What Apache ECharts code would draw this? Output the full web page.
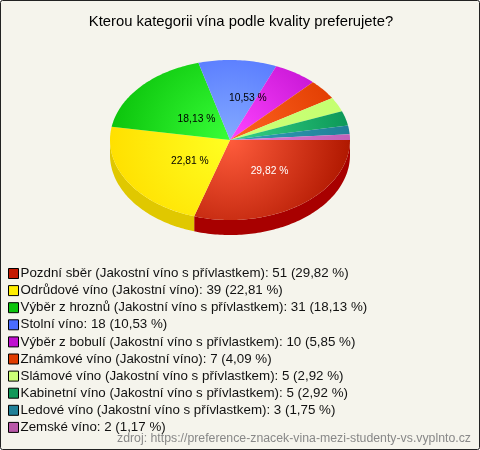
<!DOCTYPE html>
<html><head><meta charset="utf-8">
<style>html,body{margin:0;padding:0;background:#fff}#c{width:480px;height:450px}</style>
<script src="https://cdn.jsdelivr.net/npm/echarts@6/dist/echarts.min.js"></script>
</head><body><div id="c"></div>
<script>
const titleText = 'Kterou kategorii vína podle kvality preferujete?';
const sourceText = 'zdroj: https://preference-znacek-vina-mezi-studenty-vs.vyplnto.cz';
const categories = ['Pozdní sběr (Jakostní víno s přívlastkem)','Odrůdové víno (Jakostní víno)','Výběr z hroznů (Jakostní víno s přívlastkem)','Stolní víno','Výběr z bobulí (Jakostní víno s přívlastkem)','Známkové víno (Jakostní víno)','Slámové víno (Jakostní víno s přívlastkem)','Kabinetní víno (Jakostní víno s přívlastkem)','Ledové víno (Jakostní víno s přívlastkem)','Zemské víno'];
const counts = [51,39,31,18,10,7,5,5,3,2];
const percents = ['29,82','22,81','18,13','10,53','5,85','4,09','2,92','2,92','1,75','1,17'];
const legendColors = ['#c41a00','#ffee00','#0cc40c','#4a6cff','#c010d0','#e03c00','#ccff77','#109858','#208098','#b858a8'];
const innerColors = ['#ff5c3c','#ffff22','#38ff38','#84aaff','#ff44ff','#ff6422','#ccff77','#38d488','#30a0b8','#e080d8'];
const outerColors = ['#b01800','#ffe000','#0cc40c','#4a6cff','#c010d0','#e03c00','#c4ff70','#0c9858','#208098','#c060b8'];
const sideColors = ['#a80000','#e0c800','#0a9a0a','#3a50c0','#9010a0','#b03000','#a0cc60','#0c7040','#186070','#904888'];
const labelNudgeX = [4,11,11,14], labelNudgeY = [-1,0,6,-2];

const CX=230, CY=140, RX=120, RY=80, DEPTH=15;
const total = counts.reduce((a,b)=>a+b,0);
function arcPoints(a0,a1,dy){
  const pts=[]; const n=Math.max(2,Math.ceil((a1-a0)/0.02));
  for(let i=0;i<=n;i++){const t=a0+(a1-a0)*i/n;pts.push([CX+RX*Math.cos(t),CY+dy+RY*Math.sin(t)]);}
  return pts;
}
function startOf(i){let s=0;for(let k=0;k<i;k++)s+=counts[k];return s/total*Math.PI*2;}
function renderItem(params,api){
  const i=params.dataIndex, v=api.value(1);
  const a0=startOf(i), a1=a0+v/total*Math.PI*2;
  const children=[];
  const s0=a0, s1=Math.min(a1,Math.PI);
  if(s0<Math.PI){
    const top=arcPoints(s0,s1,0), bot=arcPoints(s0,s1,DEPTH).reverse();
    children.push({type:'polygon',z2:1,shape:{points:top.concat(bot)},style:{fill:sideColors[i]}});
  }
  children.push({type:'polygon',z2:2,shape:{points:[[CX,CY]].concat(arcPoints(a0,a1,0))},
    style:{fill:{type:'radial',x:CX,y:CY,r:RX,global:true,colorStops:[{offset:0,color:innerColors[i]},{offset:1,color:outerColors[i]}]}}});
  if(i<4){
    const m=(a0+a1)/2;
    children.push({type:'text',z2:3,x:CX+RX*.5*Math.cos(m)+labelNudgeX[i],y:CY+RY*.5*Math.sin(m)+labelNudgeY[i],
      style:{text:percents[i]+' %',fontFamily:'Liberation Sans',fontSize:10.3,fill:i===0?'#fff':'#000',align:'center',verticalAlign:'middle'}});
  }
  return {type:'group',children};
}
const chart=echarts.init(document.getElementById('c'),null,{renderer:'canvas'});
chart.setOption({
  animation:false,
  backgroundColor:'#fff',
  title:{text:titleText,left:236,top:9,textAlign:'center',textStyle:{fontFamily:'Liberation Sans',fontSize:14.8,fontWeight:'normal',color:'#000'}},
  graphic:[
    {type:'rect',z:-10,shape:{x:0.5,y:0.5,width:479,height:449,r:2},style:{fill:'#f5f4ec',stroke:'#222',lineWidth:1}},
    {type:'text',right:9,top:433,style:{text:sourceText,fontFamily:'Liberation Sans',fontSize:12.3,fill:'#888'}}
  ],
  legend:{orient:'vertical',left:3,top:262,itemWidth:10,itemHeight:10,itemGap:4.1,icon:'rect',selectedMode:false,
    itemStyle:{borderColor:'#000',borderWidth:1},
    textStyle:{fontFamily:'Liberation Sans',fontSize:13.33,color:'#111',padding:[0,0,0,-3],lineHeight:12},
    data:categories,
    formatter:n=>{const i=categories.indexOf(n);return n+': '+counts[i]+' ('+percents[i]+' %)';}},
  xAxis:{show:false,type:'value',min:0,max:1},yAxis:{show:false,type:'value',min:0,max:1},
  grid:{left:0,right:0,top:0,bottom:0},
  series:[
    {type:'pie',radius:[0,0],center:[-50,-50],silent:true,label:{show:false},labelLine:{show:false},
      data:categories.map((n,i)=>({name:n,value:counts[i],itemStyle:{color:legendColors[i]}}))},
    {type:'custom',coordinateSystem:'none',renderItem,silent:true,
      data:counts.map((v,i)=>[i,v])}
  ]
});
</script></body></html>
